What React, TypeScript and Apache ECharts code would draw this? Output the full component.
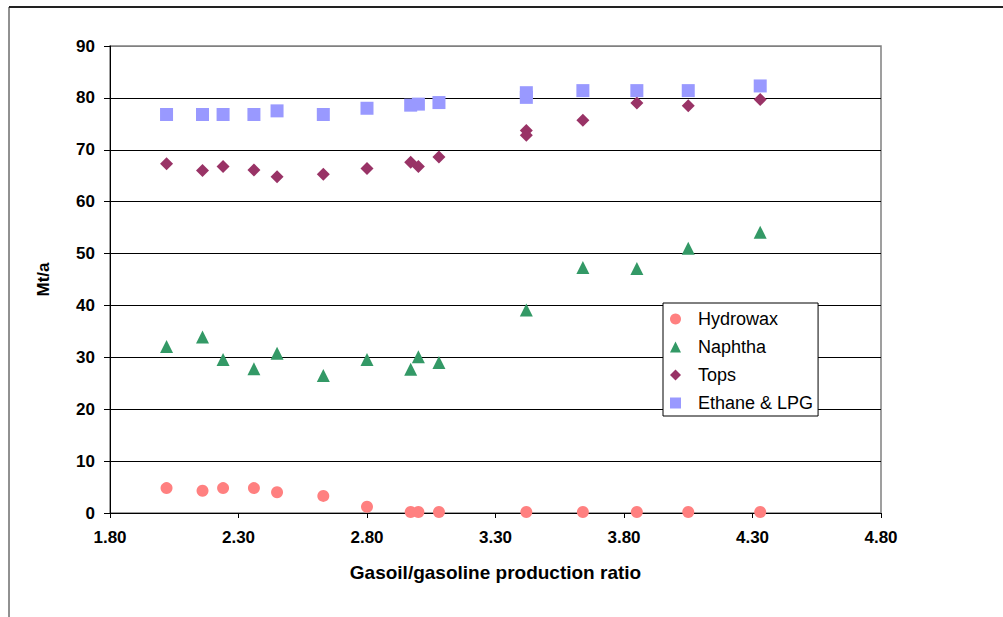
import React, { useEffect, useRef } from "react";
import * as echarts from "echarts";

// Gasoil/gasoline production ratio (x) for each case
const xRatio = [2.02, 2.16, 2.24, 2.36, 2.45, 2.63, 2.80, 2.97, 3.00, 3.08, 3.42, 3.64, 3.85, 4.05, 4.33];
const hydrowax = [4.8, 4.3, 4.8, 4.8, 4.0, 3.3, 1.2, 0.2, 0.2, 0.2, 0.2, 0.2, 0.2, 0.2, 0.2];
const naphtha = [32.1, 33.9, 29.6, 27.8, 30.8, 26.5, 29.6, 27.7, 30.1, 29.0, 39.1, 47.3, 47.1, 51.0, 54.1];
const tops = [67.3, 66.0, 66.8, 66.1, 64.8, 65.3, 66.4, 67.6, 66.8, 68.6, 73.7, 75.7, 79.0, 78.5, 79.7];
const ethaneLpg = [76.8, 76.8, 76.8, 76.8, 77.5, 76.8, 78.0, 78.6, 78.8, 79.1, 81.0, 81.4, 81.4, 81.4, 82.3];
// second case at the same ratio
const extraX = [3.42];
const topsExtra = [72.8];
const ethaneExtra = [80.1];

const xTicks = [1.8, 2.3, 2.8, 3.3, 3.8, 4.3, 4.8];
const yTicks = [0, 10, 20, 30, 40, 50, 60, 70, 80, 90];

const seriesNames = ["Hydrowax", "Naphtha", "Tops", "Ethane & LPG"];

const FONT = "'Liberation Sans', Arial, sans-serif";

function pairs(xs: number[], ys: number[]) {
  return xs.map((x, i) => [x, ys[i]]);
}

export default function App() {
  const ref = useRef<HTMLDivElement>(null);

  useEffect(() => {
    if (!ref.current) return;
    const chart = echarts.init(ref.current, undefined, { renderer: "svg" });

    const splitColors = yTicks.map((v, i) => (i === yTicks.length - 1 ? "#808080" : "#000000"));

    chart.setOption({
      animation: false,
      backgroundColor: "#ffffff",
      grid: {
        left: 110,
        top: 46,
        width: 771,
        height: 467,
        show: true,
        borderColor: "#808080",
        borderWidth: 1.5,
        backgroundColor: "transparent",
      },
      xAxis: {
        type: "value",
        min: 1.8,
        max: 4.8,
        axisLine: { show: true, onZero: false, lineStyle: { color: "#000", width: 1 } },
        axisTick: {
          show: true,
          inside: false,
          length: 5,
          customValues: xTicks,
          lineStyle: { color: "#000" },
        },
        axisLabel: {
          customValues: xTicks,
          formatter: (v: number) => v.toFixed(2),
          color: "#000",
          fontFamily: FONT,
          fontWeight: "bold",
          fontSize: 17,
          margin: 16,
        },
        splitLine: { show: false },
      },
      yAxis: {
        type: "value",
        min: 0,
        max: 90,
        interval: 10,
        axisLine: { show: true, lineStyle: { color: "#000", width: 1 } },
        axisTick: { show: true, inside: false, length: 6, lineStyle: { color: "#000" } },
        axisLabel: {
          color: "#000",
          fontFamily: FONT,
          fontWeight: "bold",
          fontSize: 17,
          margin: 15,
        },
        splitLine: { show: true, lineStyle: { color: splitColors, width: 1 } },
      },
      legend: {
        orient: "vertical",
        left: 663,
        top: 303,
        data: seriesNames,
        backgroundColor: "#ffffff",
        borderColor: "#000000",
        borderWidth: 1,
        padding: [7, 5, 4, 7],
        itemWidth: 11,
        itemHeight: 11,
        itemGap: 10,
        textStyle: {
          color: "#000",
          fontFamily: FONT,
          fontSize: 18,
          padding: [0, 0, 0, 12],
        },
      },
      graphic: [
        {
          type: "line",
          shape: { x1: 9, y1: 7, x2: 1003, y2: 7 },
          style: { stroke: "#222", lineWidth: 2 },
        },
        {
          type: "line",
          shape: { x1: 9, y1: 7, x2: 9, y2: 617 },
          style: { stroke: "#222", lineWidth: 1 },
        },
        {
          type: "text",
          x: 495.5,
          y: 572,
          style: {
            text: "Gasoil/gasoline production ratio",
            font: `bold 19px ${FONT}`,
            fill: "#000",
            align: "center",
            verticalAlign: "middle",
          },
        },
        {
          type: "text",
          x: 43,
          y: 279.5,
          rotation: Math.PI / 2,
          style: {
            text: "Mt/a",
            font: `bold 17px ${FONT}`,
            fill: "#000",
            align: "center",
            verticalAlign: "middle",
          },
        },
      ],
      series: [
        {
          name: seriesNames[0],
          type: "scatter",
          symbol: "circle",
          symbolSize: 12,
          itemStyle: { color: "#FF8080", opacity: 1 },
          data: pairs(xRatio, hydrowax),
        },
        {
          name: seriesNames[1],
          type: "scatter",
          symbol: "triangle",
          symbolSize: 13,
          itemStyle: { color: "#339966", opacity: 1 },
          data: pairs(xRatio, naphtha),
        },
        {
          name: seriesNames[2],
          type: "scatter",
          symbol: "diamond",
          symbolSize: 13,
          itemStyle: { color: "#993366", opacity: 1 },
          data: pairs(xRatio, tops).concat(pairs(extraX, topsExtra)),
        },
        {
          name: seriesNames[3],
          type: "scatter",
          symbol: "rect",
          symbolSize: 13,
          itemStyle: { color: "#9999FF", opacity: 1 },
          data: pairs(xRatio, ethaneLpg).concat(pairs(extraX, ethaneExtra)),
        },
      ],
    });

    return () => chart.dispose();
  }, []);

  return (
    <div
      ref={ref}
      style={{ position: "absolute", left: 0, top: 0, width: 1003, height: 617 }}
    />
  );
}
